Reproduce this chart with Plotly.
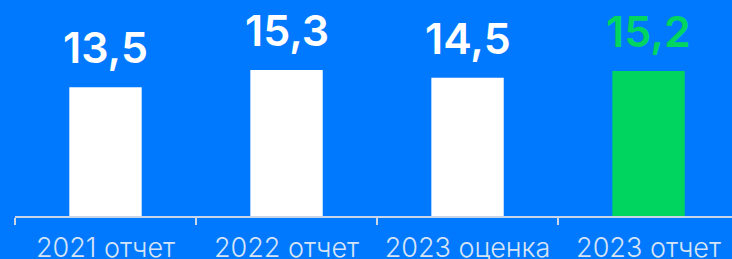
import plotly.graph_objects as go

categories = ["2021 отчет", "2022 отчет", "2023 оценка", "2023 отчет"]
values = [13.5, 15.3, 14.5, 15.2]
labels = ["13,5", "15,3", "14,5", "15,2"]
bar_colors = ["#FFFFFF", "#FFFFFF", "#FFFFFF", "#00D65F"]
label_colors = ["#FFFFFF", "#FFFFFF", "#FFFFFF", "#00D65F"]

BG = "#0079FF"

fig = go.Figure()
fig.add_trace(go.Bar(
    x=categories, y=values, marker=dict(color=bar_colors, line=dict(width=0)),
    width=0.4, hoverinfo="skip",
))

for c, v, t, col in zip(categories, values, labels, label_colors):
    fig.add_annotation(
        x=c, y=v, text=t, showarrow=False, yanchor="bottom", yshift=12,
        font=dict(family="Inter, Roboto, sans-serif", size=43, color=col, weight=600),
    )

fig.update_layout(
    width=732, height=259,
    paper_bgcolor=BG, plot_bgcolor=BG,
    margin=dict(l=15, r=0, t=0, b=43, autoexpand=False),
    showlegend=False,
    bargap=0.6,
)
fig.update_xaxes(
    range=[-0.5, 3.461],
    automargin=False,
    showline=True, linecolor="#C8D6E8", linewidth=2,
    ticks="outside", tickson="boundaries", ticklen=7, tickwidth=2, tickcolor="#C8D6E8",
    tickfont=dict(family="Inter, Roboto, sans-serif", size=27, color="#D6E4F5", weight=300),
    ticklabelstandoff=7,
    showgrid=False, zeroline=False,
)
fig.update_yaxes(range=[0, 22.65], visible=False, showgrid=False, zeroline=False)

fig.write_html(
    "out.html",
    config={"displayModeBar": False},
    post_script="document.body.style.margin='0';document.body.style.background='#0079FF';document.body.style.overflow='hidden';",
)
